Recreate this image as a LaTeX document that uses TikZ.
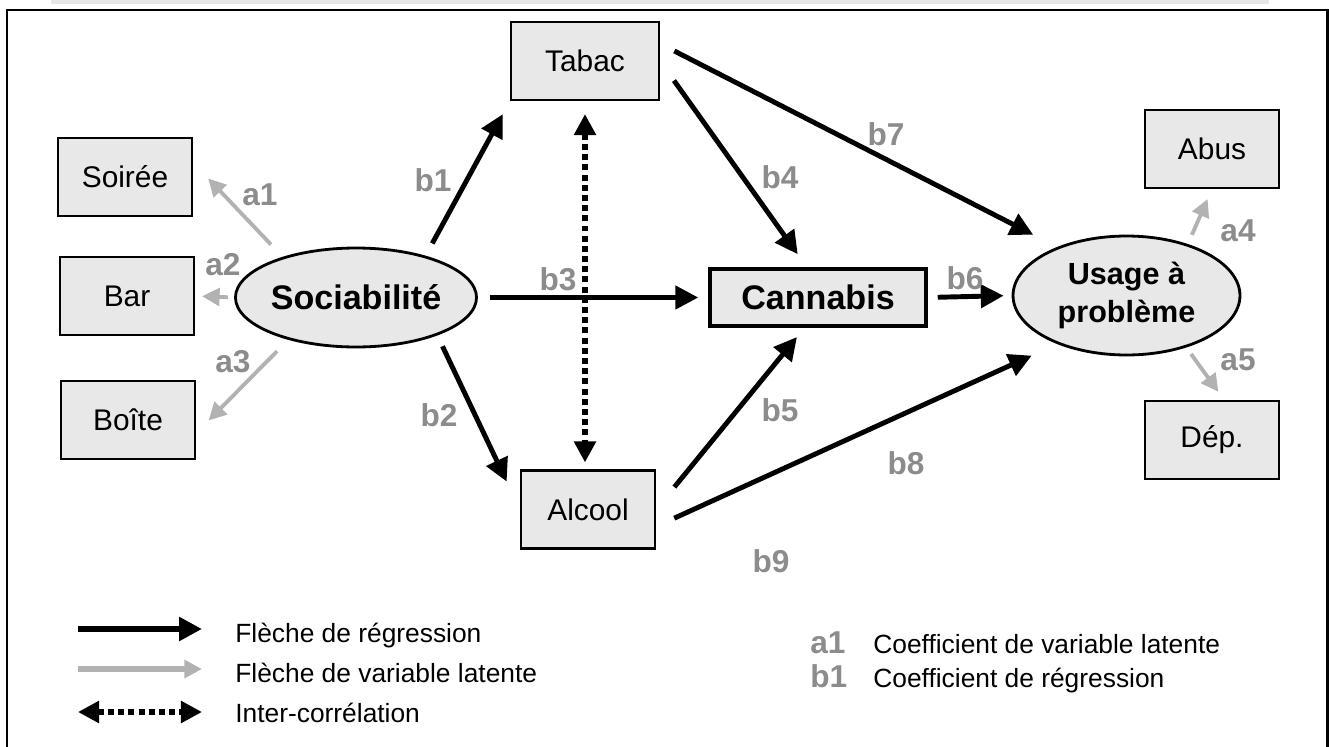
\documentclass[tikz,border=0pt]{standalone}
\usepackage{fontspec}
\setmainfont{Liberation Sans}
\usetikzlibrary{arrows.meta,shapes.geometric}

\definecolor{boxgray}{HTML}{E8E8E8}
\definecolor{labgray}{HTML}{8C8C8C}
\definecolor{arrgray}{HTML}{B2B2B2}
\definecolor{bandgray}{HTML}{E6E6E6}

\begin{document}
\begin{tikzpicture}[x=0.02cm,y=-0.02cm,
	box/.style={shape=rectangle,draw=black,fill=boxgray,line width=1.2pt,
		minimum width=2.68cm,minimum height=1.56cm,inner sep=0pt,
		font=\fontsize{17}{20}\selectfont},
	latent/.style={shape=ellipse,draw=black,fill=boxgray,line width=1.6pt,
		inner sep=0pt,font=\bfseries\fontsize{19.4}{22}\selectfont},
	regr/.style={draw=black,line width=2.8pt,-{Triangle[length=13pt,width=13pt]}},
	latarrow/.style={draw=arrgray,line width=2.2pt,-{Triangle[length=10pt,width=10pt]}},
	corr/.style={draw=black,line width=3.2pt,dash pattern=on 3.4pt off 2.4pt,
		{Triangle[length=12pt,width=12pt]}-{Triangle[length=12pt,width=12pt]}},
	coef/.style={text=labgray,font=\bfseries\fontsize{18}{20}\selectfont,inner sep=0pt},
	legtext/.style={font=\fontsize{15}{18}\selectfont,inner sep=0pt}]
	
	\useasboundingbox (0,0) rectangle (1329,747);
	\fill[bandgray] (51,0) rectangle (1269,4);
	\draw[line width=1.7pt] (7,747) -- (7,10) -- (1327,10) -- (1327,747);
	
	% indicateurs et variables latentes
	\node[box] (soiree) at (125,177)   {Soirée};
	\node[box] (bar)    at (127,296)   {Bar};
	\node[box] (boite)  at (128,420)   {Boîte};
	\node[latent,minimum width=4.76cm,minimum height=1.98cm] (soc) at (356,297.5) {Sociabilité};
	\node[box,minimum width=2.96cm] (tabac)  at (585,61)    {Tabac};
	\node[box] (alcool) at (588,509.5) {Alcool};
	\node[box,line width=2pt,minimum width=4.32cm,minimum height=1.14cm,
		font=\bfseries\fontsize{19.4}{22}\selectfont] (cannabis) at (818,297.5) {Cannabis};
	\node[latent,minimum width=4.54cm,minimum height=2.38cm,align=center,
		font=\bfseries\fontsize{17.4}{21.8}\selectfont] (usage) at (1126.5,295.5) {Usage à\\problème};
	\node[box] (abus)   at (1212,149)  {Abus};
	\node[box] (dep)    at (1212,440)  {Dép.};
	
	% fleches de variable latente
	\draw[latarrow,shorten <=0.34cm,shorten >=0.44cm] (soc.151.5) -- (soiree.12.6);
	\draw[latarrow,shorten <=0.12cm,shorten >=0.14cm] (soc.west) -- (bar.east);
	\draw[latarrow,shorten <=0.32cm,shorten >=0.36cm] (soc.212.8) -- (boite.349.3);
	\draw[latarrow,shorten <=0.2cm,shorten >=0.22cm] (usage.40.6) -- (abus.south);
	\draw[latarrow,shorten <=0.16cm,shorten >=0.2cm] (usage.319.2) -- (dep.73);
	
	% fleches de regression
	\draw[regr,shorten <=0.28cm,shorten >=0.3cm] (soc.31) -- (tabac.south west);
	\draw[regr,shorten <=0.24cm,shorten >=0.62cm] (soc.335) -- (alcool.west);
	\draw[regr,shorten <=0.24cm,shorten >=0.2cm] (soc.east) -- (cannabis.west);
	\draw[regr,shorten <=0.48cm,shorten >=0.32cm] (tabac.east) -- (cannabis.110.6);
	\draw[regr,shorten <=0.58cm,shorten >=0.24cm] (alcool.east) -- (cannabis.246);
	\draw[regr,shorten <=0.2cm,shorten >=0.16cm] (cannabis.east) -- (usage.west);
	\draw[regr,shorten <=0.32cm,shorten >=0.54cm] (tabac.13.1) -- (usage.145.8);
	\draw[regr,shorten <=0.4cm,shorten >=0.56cm] (alcool.346) -- (usage.215.2);
	
	% inter-correlation
	\draw[corr,shorten <=0.26cm,shorten >=0.14cm] (tabac.south) -- (tabac.south |- alcool.north);
	
	% coefficients
	\node[coef] (a1) at (260,195) {a1};
	\node[coef] (a2) at (223,265) {a2};
	\node[coef] (a3) at (233,362) {a3};
	\node[coef] (a4) at (1238,231) {a4};
	\node[coef] (a5) at (1238,360) {a5};
	\node[coef] (b1) at (433,180) {b1};
	\node[coef] (b2) at (439,415) {b2};
	\node[coef] (b3) at (558,279) {b3};
	\node[coef] (b4) at (780,177) {b4};
	\node[coef] (b5) at (780,410) {b5};
	\node[coef] (b6) at (965,278) {b6};
	\node[coef] (b7) at (886,134) {b7};
	\node[coef] (b8) at (906,463) {b8};
	\node[coef] (b9) at (771,561) {b9};
	
	% legende
	\coordinate (lreg1) at (78,629);  \coordinate (lreg2) at (202,629);
	\coordinate (llat1) at (78,669);  \coordinate (llat2) at (202,669);
	\coordinate (lcor1) at (78,712);  \coordinate (lcor2) at (202,712);
	\draw[regr,line width=3.2pt] (lreg1) -- (lreg2);
	\draw[latarrow,line width=3pt] (llat1) -- (llat2);
	\draw[corr] (lcor1) -- (lcor2);
	\node[legtext,anchor=base west] (treg) at (235,642) {Flèche de régression};
	\node[legtext,anchor=base west] (tlat) at (235,682) {Flèche de variable latente};
	\node[legtext,anchor=base west] (tcor) at (235,722) {Inter-corrélation};
	\node[coef,anchor=base west] (ka) at (810,653) {a1};
	\node[legtext,anchor=base west] (tka) at (873,653) {Coefficient de variable latente};
	\node[coef,anchor=base west] (kb) at (810,687) {b1};
	\node[legtext,anchor=base west] (tkb) at (873,687) {Coefficient de régression};
	
\end{tikzpicture}
\end{document}
